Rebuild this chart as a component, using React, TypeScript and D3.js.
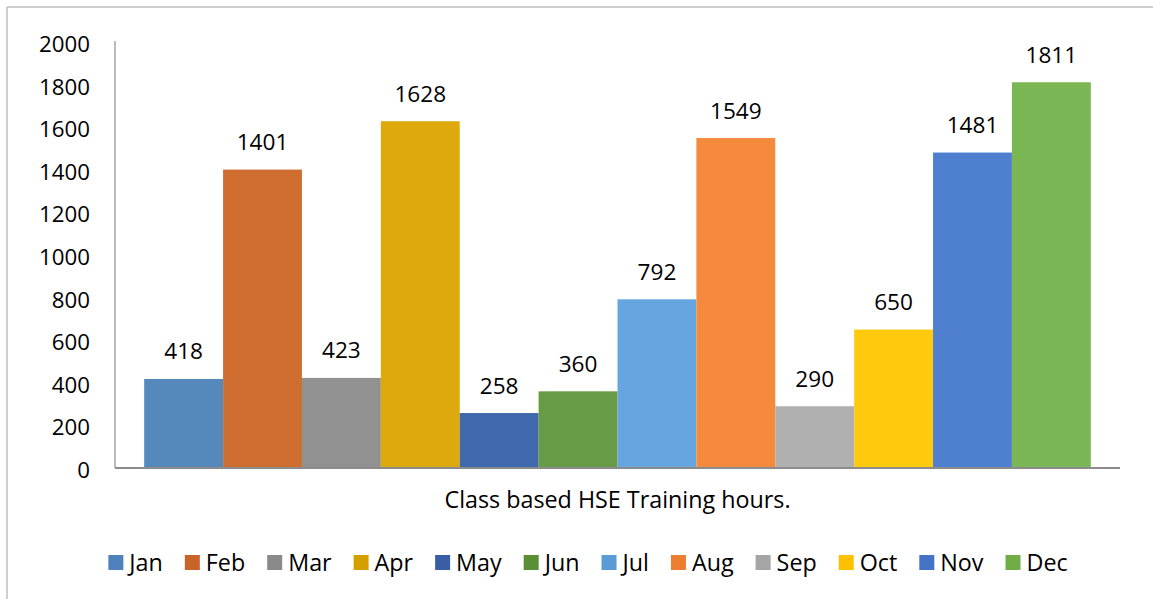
import React from "react";
import * as d3 from "d3";

const months = ["Jan", "Feb", "Mar", "Apr", "May", "Jun", "Jul", "Aug", "Sep", "Oct", "Nov", "Dec"];
const hours = [418, 1401, 423, 1628, 258, 360, 792, 1549, 290, 650, 1481, 1811];
const barColors = ["#5589bc", "#cf6e30", "#919191", "#dea90c", "#4068ad", "#679b45", "#66a5e0", "#f68a3c", "#b0b0b0", "#ffc90e", "#4f7fcf", "#7ab654"];
const legendColors = ["#4f81bd", "#c8642a", "#8a8a8a", "#d4a000", "#3a5ea6", "#5a8f35", "#5b9bd5", "#ed7d31", "#a5a5a5", "#ffc000", "#4472c4", "#70ad47"];
const yTicks = [0, 200, 400, 600, 800, 1000, 1200, 1400, 1600, 1800, 2000];
const title = "Class based HSE Training hours.";

const W = 1153;
const H = 599;
const FONT = "'Open Sans', Lato, sans-serif";
const NUM_FS = 22.6;
const TICK_FS = 22.3;
const TITLE_FS = 23.3;
const LEG_FS = 23.3;

function measure(text: string, fs: number): number {
  if (typeof document === "undefined") return text.length * fs * 0.55;
  const c = document.createElement("canvas");
  const ctx = c.getContext("2d");
  if (!ctx) return text.length * fs * 0.55;
  ctx.font = `${fs}px 'Open Sans'`;
  return ctx.measureText(text).width;
}

export default function App() {
  const left = 115;
  const right = 1120;
  const base = 468;
  const y = d3.scaleLinear().domain([0, 2000]).range([base, 42]);
  const x = d3.scaleBand<string>().domain(months).range([left, right]).paddingInner(0).paddingOuter(0.37);

  // legend layout
  const sq = 15;
  const gapText = 6;
  const gapItem = 22;
  const widths = months.map((m) => measure(m, LEG_FS));
  const totalW = widths.reduce((a, w) => a + sq + gapText + w + gapItem, 0) - gapItem;
  let lx = 588 - totalW / 2;
  const legendItems = months.map((m, i) => {
    const item = { m, x: lx, color: legendColors[i] };
    lx += sq + gapText + widths[i] + gapItem;
    return item;
  });

  return (
    <svg width={W} height={H} style={{ position: "absolute", left: 0, top: 0, background: "#fff" }} fontFamily={FONT}>
      <rect x={0} y={0} width={W} height={H} fill="#fff" />
      {/* outer frame */}
      <line x1={7} x2={W} y1={7} y2={7} stroke="#bfbfbf" strokeWidth={1.5} />
      <line x1={7} x2={7} y1={7} y2={H} stroke="#bfbfbf" strokeWidth={1.5} />

      {/* bars */}
      {months.map((m, i) => (
        <rect key={m} x={x(m)} y={y(hours[i])} width={x.bandwidth()} height={base - y(hours[i])} fill={barColors[i]} />
      ))}

      {/* data labels */}
      {months.map((m, i) => (
        <text key={m} x={(x(m) as number) + x.bandwidth() / 2} y={y(hours[i]) - 19.5} textAnchor="middle" fontSize={NUM_FS} fill="#000">
          {hours[i]}
        </text>
      ))}

      {/* axes */}
      <line x1={left} x2={left} y1={41} y2={base} stroke="#8c8c8c" strokeWidth={1.2} />
      <line x1={left} x2={right} y1={base} y2={base} stroke="#8c8c8c" strokeWidth={2} />

      {yTicks.map((t) => (
        <text key={t} x={90} y={y(t) + 10} textAnchor="end" fontSize={TICK_FS} fill="#000">
          {t}
        </text>
      ))}

      <text x={(443 + 792) / 2} y={508} textAnchor="middle" fontSize={TITLE_FS} fill="#000">
        {title}
      </text>

      {legendItems.map((it) => (
        <g key={it.m}>
          <rect x={it.x} y={555} width={sq} height={sq} fill={it.color} />
          <text x={it.x + sq + gapText} y={571} fontSize={LEG_FS} fill="#000">
            {it.m}
          </text>
        </g>
      ))}
    </svg>
  );
}
